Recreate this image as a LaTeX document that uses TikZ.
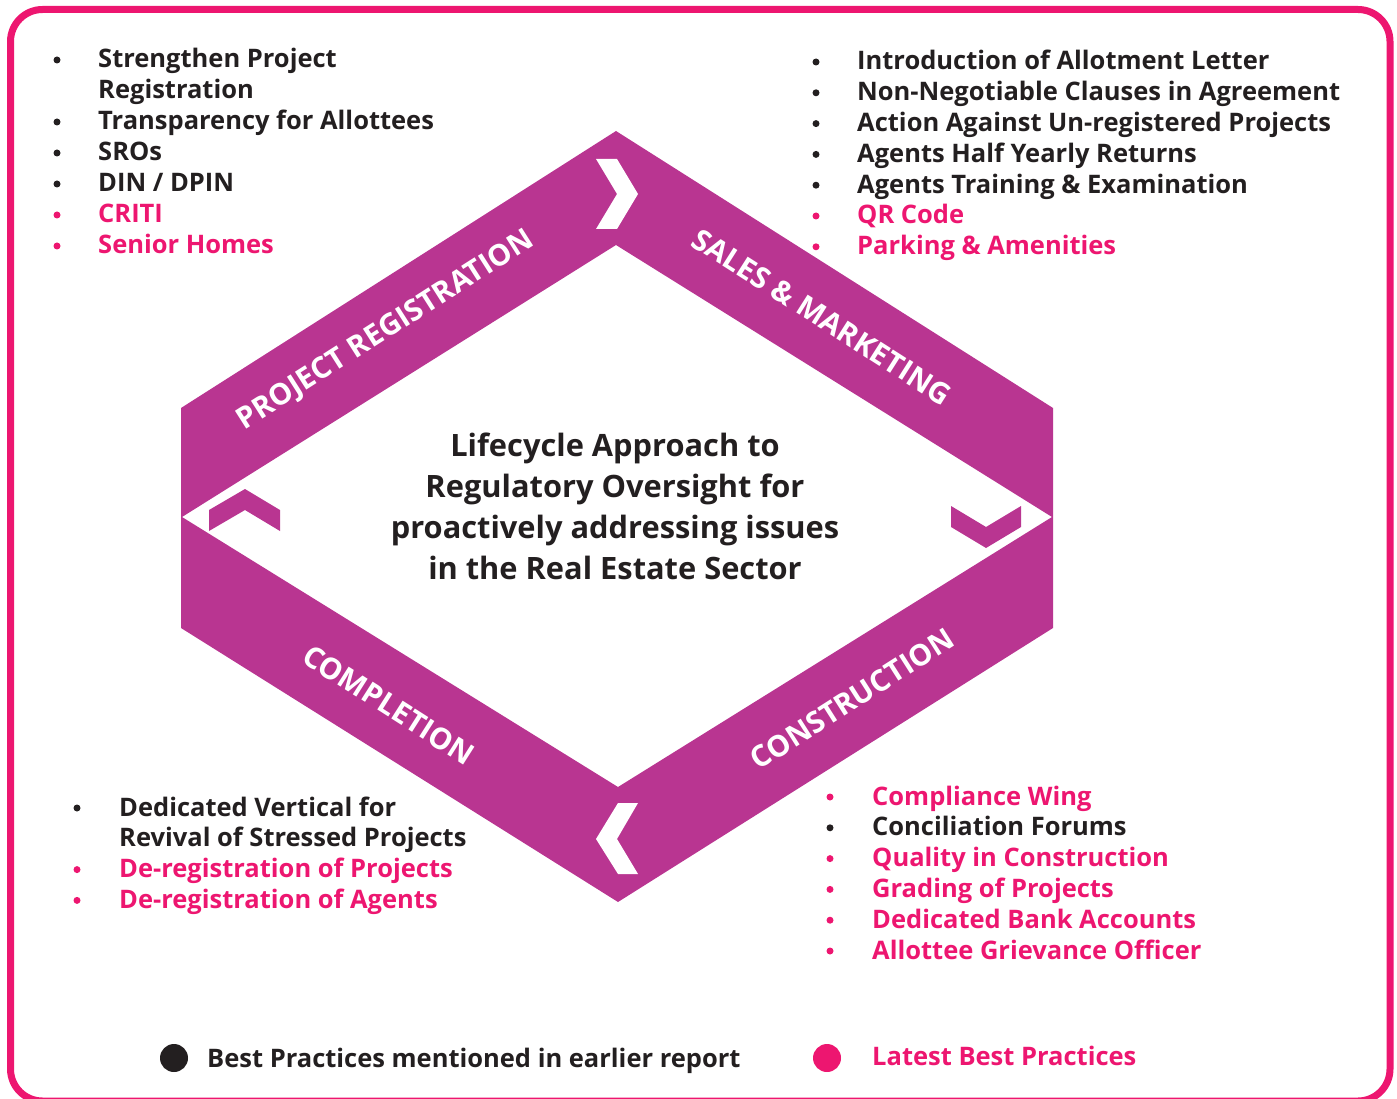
\documentclass[tikz,border=0pt]{standalone}
\usepackage{fontspec}
\setmainfont{Open Sans}
\usetikzlibrary{positioning}
\definecolor{band}{RGB}{185,53,145}
\definecolor{hot}{RGB}{237,22,112}
\definecolor{dark}{RGB}{35,31,32}
\tikzset{item/.style={anchor=base west, inner sep=0pt, font=\fontsize{25.5}{30}\selectfont\bfseries},
  stage/.style={text=white, inner sep=0pt, font=\fontsize{29.6}{32}\selectfont\bfseries},
  legend/.style={anchor=base west, inner sep=0pt, font=\fontsize{25.5}{30}\selectfont\bfseries}}

\begin{document}
\begin{tikzpicture}[x=1pt,y=-1pt]
    \useasboundingbox (0,0) rectangle (1397,1099);
    \draw[hot, line width=7pt, rounded corners=32pt] (10.5,9.5) rectangle (1390,1101);

    % outer hexagon and inner diamond
    \coordinate (otop) at (616,131);
    \coordinate (oright1) at (1053,408);
    \coordinate (oright2) at (1053,628);
    \coordinate (obot) at (618,902);
    \coordinate (oleft2) at (181,628);
    \coordinate (oleft1) at (181,408);
    \coordinate (itop) at (616,245);
    \coordinate (iright) at (1052,517);
    \coordinate (ibot) at (618,787);
    \coordinate (ileft) at (182,517);
    \fill[band, even odd rule] (otop) -- (oright1) -- (oright2) -- (obot) -- (oleft2) -- (oleft1) -- cycle
        (itop) -- (iright) -- (ibot) -- (ileft) -- cycle;

    % chevrons
    \fill[white] (596,159) -- (617,159) -- (638,194) -- (617,229) -- (596,229) -- (617,194) -- cycle;
    \fill[white] (638,803) -- (618,803) -- (596,839) -- (618,874) -- (638,874) -- (617,839) -- cycle;
    \fill[band] (209,531) -- (209,510) -- (245,489) -- (280,510) -- (280,531) -- (245,510) -- cycle;
    \fill[band] (951,506) -- (986,527) -- (1021,506) -- (1021,527) -- (986,548) -- (951,527) -- cycle;

    \node[stage, rotate=32.5] (regist) at (386,331) {PROJECT REGISTRATION};
    \node[stage, rotate=-32.5] (sales) at (822,317) {SALES \& MARKETING};
    \node[stage, rotate=32.5] (constr) at (852,699) {CONSTRUCTION};
    \node[stage, rotate=-32.5] (complet) at (389,705) {COMPLETION};

    \node[inner sep=0pt, align=center, text=dark, font=\fontsize{30.8}{41}\selectfont\bfseries] (centre) at (615,506)
        {Lifecycle Approach to\\Regulatory Oversight for\\proactively addressing issues\\in the Real Estate Sector};

    % project registration list
    \foreach \txt/\clr/\b [count=\i from 0] in {Strengthen Project/dark/1, Registration/dark/0,
        Transparency for Allottees/dark/1, SROs/dark/1, {DIN / DPIN}/dark/1, CRITI/hot/1, Senior Homes/hot/1}
        {
        \node[item, text=\clr] (reg\i) at (98,68+31*\i) {\txt};
        \ifnum\b=1 \fill[\clr] (57,60+31*\i) circle (3.5pt); \fi
        }

    % sales and marketing list
    \foreach \txt/\clr [count=\i from 0] in {Introduction of Allotment Letter/dark, Non-Negotiable Clauses in Agreement/dark,
        Action Against Un-registered Projects/dark, Agents Half Yearly Returns/dark,
        Agents Training \& Examination/dark, QR Code/hot, Parking \& Amenities/hot}
        {
        \node[item, text=\clr] (sal\i) at (857,70+30.8*\i) {\txt};
        \fill[\clr] (816,62+30.8*\i) circle (3.5pt);
        }

    % completion list
    \foreach \txt/\clr/\b [count=\i from 0] in {Dedicated Vertical for/dark/1, Revival of Stressed Projects/dark/0,
        De-registration of Projects/hot/1, De-registration of Agents/hot/1}
        {
        \node[item, text=\clr] (com\i) at (119,816+30.8*\i) {\txt};
        \ifnum\b=1 \fill[\clr] (77,808+30.8*\i) circle (3.5pt); \fi
        }

    % construction list
    \foreach \txt/\clr [count=\i from 0] in {Compliance Wing/hot, Conciliation Forums/dark, Quality in Construction/hot,
        Grading of Projects/hot, Dedicated Bank Accounts/hot, Allottee Grievance Officer/hot}
        {
        \node[item, text=\clr] (con\i) at (872,805+30.8*\i) {\txt};
        \fill[\clr] (830,797+30.8*\i) circle (3.5pt);
        }

    % legend
    \fill[dark] (174,1058) circle (14pt);
    \node[legend, text=dark] (oldbest) at (207,1067) {Best Practices mentioned in earlier report};
    \fill[hot] (827,1058) circle (14pt);
    \node[legend, text=hot] (newbest) at (872,1065) {Latest Best Practices};
\end{tikzpicture}
\end{document}
